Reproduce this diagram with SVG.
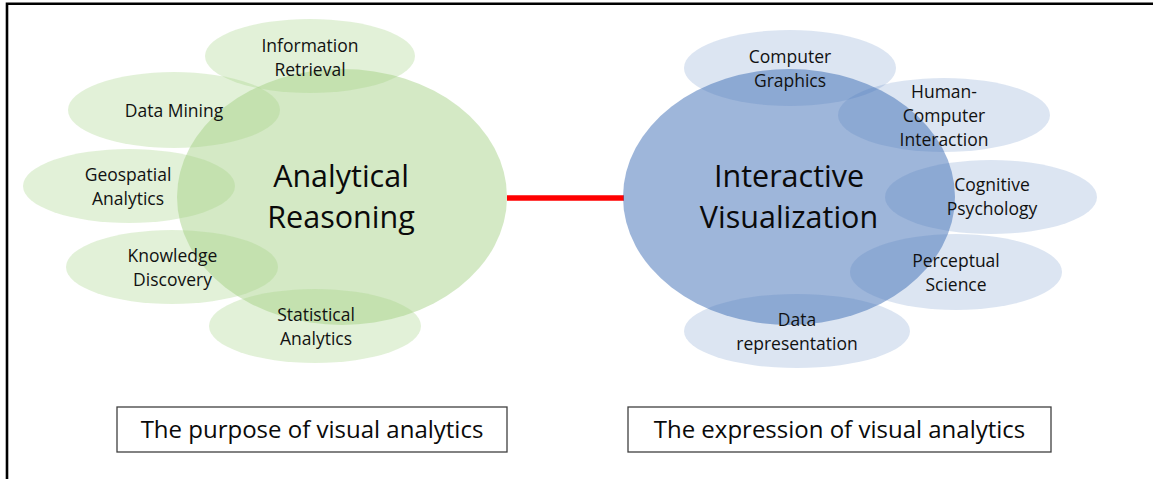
<svg xmlns="http://www.w3.org/2000/svg" width="1153" height="479" viewBox="0 0 1153 479">
<style>
.lbl{font-family:"Open Sans","Liberation Sans",sans-serif;font-size:17.5px;fill:#111;text-anchor:middle}
.big{font-family:"Open Sans","Liberation Sans",sans-serif;font-size:30.5px;fill:#0a0a0a;text-anchor:middle}
.cap{font-family:"Open Sans","Liberation Sans",sans-serif;font-size:24px;fill:#0a0a0a;text-anchor:middle}
.gbig{fill:#9fcf7f;fill-opacity:0.45}
.gsm{fill:#9fcf7f;fill-opacity:0.3}
.bbig{fill:#3e6db5;fill-opacity:0.5}
.bsm{fill:#3e6db5;fill-opacity:0.18}
.box{fill:#fff;stroke:#404040;stroke-width:1.3}
</style>
<rect width="1153" height="479" fill="#fff"/>
<g id="frame">
<path d="M7,479 V3.8 H1153" fill="none" stroke="#000" stroke-width="2.6"/>
</g>
<g id="connectors">
<line x1="507" y1="198" x2="624" y2="198" stroke="#ff0000" stroke-width="5.5"/>
</g>
<g id="analytical-reasoning">
<ellipse class="gbig" cx="342" cy="197" rx="165" ry="128"/>
</g>
<g id="information-retrieval">
<ellipse class="gsm" cx="310" cy="56" rx="105" ry="37"/>
<text class="lbl" x="310" y="52">Information</text>
<text class="lbl" x="310" y="76">Retrieval</text>
</g>
<g id="data-mining">
<ellipse class="gsm" cx="174" cy="110" rx="106" ry="38"/>
<text class="lbl" x="174" y="117">Data Mining</text>
</g>
<g id="geospatial-analytics">
<ellipse class="gsm" cx="129" cy="186" rx="106" ry="37"/>
<text class="lbl" x="128" y="181">Geospatial</text>
<text class="lbl" x="128" y="205">Analytics</text>
</g>
<g id="knowledge-discovery">
<ellipse class="gsm" cx="172" cy="267" rx="106" ry="37"/>
<text class="lbl" x="172.5" y="262">Knowledge</text>
<text class="lbl" x="172.5" y="286">Discovery</text>
</g>
<g id="statistical-analytics">
<ellipse class="gsm" cx="315" cy="326" rx="106" ry="37"/>
<text class="lbl" x="316" y="321">Statistical</text>
<text class="lbl" x="316" y="345">Analytics</text>
</g>
<g id="analytical-reasoning-label">
<text class="big" x="341" y="187">Analytical</text>
<text class="big" x="341" y="228">Reasoning</text>
</g>
<g id="interactive-visualization">
<ellipse class="bbig" cx="789" cy="197" rx="166" ry="128"/>
</g>
<g id="computer-graphics">
<ellipse class="bsm" cx="790" cy="68" rx="106" ry="38"/>
<text class="lbl" x="790" y="63">Computer</text>
<text class="lbl" x="790" y="87">Graphics</text>
</g>
<g id="human-computer-interaction">
<ellipse class="bsm" cx="944" cy="115" rx="106" ry="37"/>
<text class="lbl" x="944" y="98">Human-</text>
<text class="lbl" x="944" y="122">Computer</text>
<text class="lbl" x="944" y="146">Interaction</text>
</g>
<g id="cognitive-psychology">
<ellipse class="bsm" cx="991" cy="197" rx="106" ry="37"/>
<text class="lbl" x="992" y="191">Cognitive</text>
<text class="lbl" x="992" y="215">Psychology</text>
</g>
<g id="perceptual-science">
<ellipse class="bsm" cx="956" cy="272" rx="106" ry="38"/>
<text class="lbl" x="956" y="267">Perceptual</text>
<text class="lbl" x="956" y="291">Science</text>
</g>
<g id="data-representation">
<ellipse class="bsm" cx="797" cy="331" rx="113" ry="37"/>
<text class="lbl" x="797" y="326">Data</text>
<text class="lbl" x="797" y="350">representation</text>
</g>
<g id="interactive-visualization-label">
<text class="big" x="789" y="187">Interactive</text>
<text class="big" x="789" y="228">Visualization</text>
</g>
<g id="purpose-box">
<rect class="box" x="117" y="407" width="390" height="45"/>
<text class="cap" x="312" y="438">The purpose of visual analytics</text>
</g>
<g id="expression-box">
<rect class="box" x="628" y="407" width="423" height="45"/>
<text class="cap" x="839.5" y="438">The expression of visual analytics</text>
</g>
</svg>
